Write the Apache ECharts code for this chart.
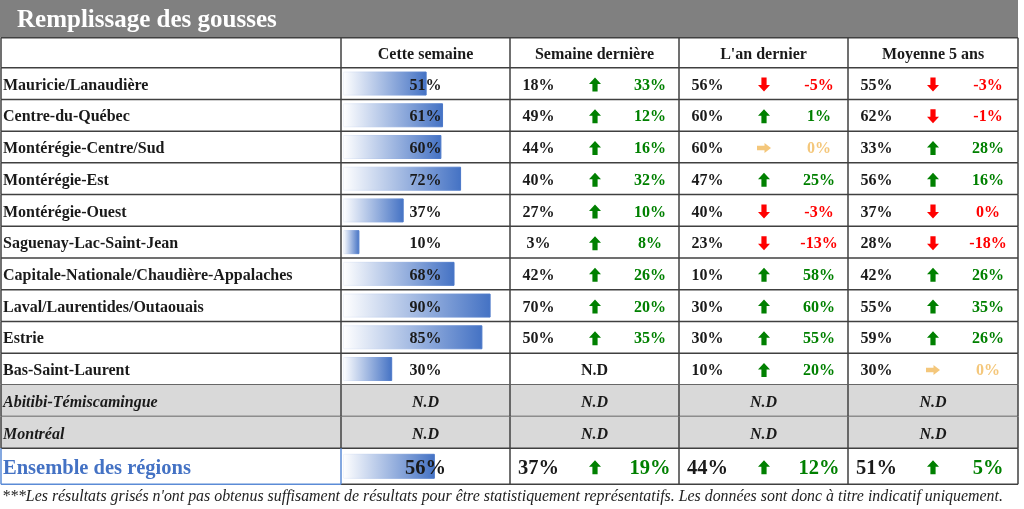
<!DOCTYPE html>
<html>
<head>
<meta charset="utf-8">
<script src="https://cdn.jsdelivr.net/npm/echarts@6/dist/echarts.min.js"></script>
<style>
  html, body { margin: 0; padding: 0; background: #fff; }
  #chart { width: 1024px; height: 509px; }
</style>
</head>
<body>
<div id="chart"></div>
<script>
// ---- data ----
const title = 'Remplissage des gousses'
const columns = ['Cette semaine', 'Semaine dernière', "L'an dernier", 'Moyenne 5 ans']
const regions = [
  'Mauricie/Lanaudière', 'Centre-du-Québec', 'Montérégie-Centre/Sud', 'Montérégie-Est',
  'Montérégie-Ouest', 'Saguenay-Lac-Saint-Jean', 'Capitale-Nationale/Chaudière-Appalaches',
  'Laval/Laurentides/Outaouais', 'Estrie', 'Bas-Saint-Laurent', 'Abitibi-Témiscamingue', 'Montréal'
]
const greyed = [false, false, false, false, false, false, false, false, false, false, true, true]
const thisWeek = [51, 61, 60, 72, 37, 10, 68, 90, 85, 30, null, null]

const lastWeek = [18, 49, 44, 40, 27, 3, 42, 70, 50, null, null, null]
const lastWeekDiff = [33, 12, 16, 32, 10, 8, 26, 20, 35, null, null, null]
const lastWeekTrend = ['up', 'up', 'up', 'up', 'up', 'up', 'up', 'up', 'up', null, null, null]

const lastYear = [56, 60, 60, 47, 40, 23, 10, 30, 30, 10, null, null]
const lastYearDiff = [-5, 1, 0, 25, -3, -13, 58, 60, 55, 20, null, null]
const lastYearTrend = ['down', 'up', 'flat', 'up', 'down', 'down', 'up', 'up', 'up', 'up', null, null]

const avg5 = [55, 62, 33, 56, 37, 28, 42, 55, 59, 30, null, null]
const avg5Diff = [-3, -1, 28, 16, 0, -18, 26, 35, 26, 0, null, null]
const avg5Trend = ['down', 'down', 'up', 'up', 'down', 'down', 'up', 'up', 'up', 'flat', null, null]

const totalLabel = ['Ensemble des régions']
const totalThisWeek = [56]
const totalCompare = [37, 44, 51]
const totalDiff = [19, 12, 5]
const totalTrend = ['up', 'up', 'up']

const footnote = "***Les résultats grisés n'ont pas obtenus suffisament de résultats pour être statistiquement représentatifs. Les données sont donc à titre indicatif uniquement."

// ---- layout ----
const FONT = '"Liberation Serif", "Times New Roman", serif'
const cols = [1, 341, 510, 679, 848, 1018]
const LINE = '#404040'
const trendColor = { up: '#008000', down: '#ff0000', flat: '#f4c77b' }
const BODY = 16
const BIG = 20.5

const pct = v => v + '%'

function arrow(kind, cx, cy) {
  let pts
  if (kind === 'up') {
    pts = [[0, -7], [6, -0.5], [2.6, -0.5], [2.6, 7], [-2.6, 7], [-2.6, -0.5], [-6, -0.5]]
  } else if (kind === 'down') {
    pts = [[0, 7], [6, 0.5], [2.6, 0.5], [2.6, -7], [-2.6, -7], [-2.6, 0.5], [-6, 0.5]]
  } else {
    pts = [[7, 0], [0.5, -5], [0.5, -2.2], [-7, -2.2], [-7, 2.2], [0.5, 2.2], [0.5, 5]]
  }
  return {
    type: 'polygon',
    shape: { points: pts.map(p => [cx + p[0], cy + p[1]]) },
    style: { fill: trendColor[kind] }
  }
}

function txt(text, x, y, opt) {
  return {
    type: 'text',
    style: Object.assign({
      text: text, x: x, y: y + 2, fill: '#1a1a1a',
      font: 'bold ' + BODY + 'px ' + FONT, align: 'center', verticalAlign: 'middle'
    }, opt || {})
  }
}

function line(x1, y1, x2, y2, color) {
  return {
    type: 'line',
    shape: { x1: x1, y1: y1, x2: x2, y2: y2 },
    style: { stroke: color || LINE, lineWidth: 1.5 }
  }
}

function rowInfo(i) {
  return {
    name: regions[i],
    grey: greyed[i],
    bar: thisWeek[i],
    cmp: [
      [lastWeek[i], lastWeekDiff[i], lastWeekTrend[i]],
      [lastYear[i], lastYearDiff[i], lastYearTrend[i]],
      [avg5[i], avg5Diff[i], avg5Trend[i]]
    ]
  }
}

function totalInfo() {
  return {
    name: totalLabel[0],
    grey: false,
    bar: totalThisWeek[0],
    cmp: totalCompare.map((v, k) => [v, totalDiff[k], totalTrend[k]])
  }
}

function makeRenderer(isTotal) {
  return function (params, api) {
    const i = api.value(1)
    const c = api.coord([0, i])
    const h = api.size([0, 1])[1]
    const top = c[1] - h / 2
    const bot = c[1] + h / 2
    const cy = c[1]
    const r = isTotal ? totalInfo() : rowInfo(i)
    const size = isTotal ? BIG : BODY
    const children = []

    if (r.grey) {
      children.push({
        type: 'rect',
        shape: { x: cols[0], y: top, width: cols[5] - cols[0], height: h },
        style: { fill: '#d9d9d9' }
      })
    }

    // region name
    children.push(txt(r.name, 3, cy, {
      align: 'left',
      fill: isTotal ? '#4472c4' : '#1a1a1a',
      font: (r.grey ? 'italic ' : '') + 'bold ' + size + 'px ' + FONT
    }))

    // this week label
    const barCx = (cols[1] + cols[2]) / 2
    if (r.bar == null) {
      children.push(txt('N.D', barCx, cy, { font: 'italic bold ' + BODY + 'px ' + FONT }))
    } else {
      children.push(txt(pct(r.bar), barCx, cy, { font: 'bold ' + size + 'px ' + FONT }))
    }

    // comparison groups
    r.cmp.forEach((g, k) => {
      const x0 = cols[k + 2]
      const x1 = cols[k + 3]
      if (g[0] == null) {
        children.push(txt('N.D', (x0 + x1) / 2, cy, {
          font: (r.grey ? 'italic ' : '') + 'bold ' + BODY + 'px ' + FONT
        }))
        return
      }
      children.push(txt(pct(g[0]), x0 + 28.5, cy, { font: 'bold ' + size + 'px ' + FONT }))
      children.push(arrow(g[2], x0 + 85, cy + 1))
      children.push(txt(pct(g[1]), x0 + 140, cy, {
        font: 'bold ' + size + 'px ' + FONT, fill: trendColor[g[2]]
      }))
    })

    // borders
    if (isTotal) {
      for (let k = 2; k < cols.length; k++) children.push(line(cols[k], top, cols[k], bot))
      children.push(line(cols[1], bot, cols[5], bot))
      children.push(line(cols[0], top, cols[0], bot, '#5b8bd6'))
      children.push(line(cols[1], top, cols[1], bot, '#5b8bd6'))
      children.push(line(cols[0], bot, cols[1], bot, '#5b8bd6'))
    } else {
      cols.forEach(x => children.push(line(x, top, x, bot)))
      children.push(line(cols[0], bot, cols[5], bot))
    }
    return { type: 'group', children: children }
  }
}

const barColor = new echarts.graphic.LinearGradient(0, 0, 1, 0, [
  { offset: 0, color: '#ffffff' },
  { offset: 1, color: '#4472c4' }
])
const barBorder = new echarts.graphic.LinearGradient(0, 0, 1, 0, [
  { offset: 0, color: '#f2f5fb' },
  { offset: 1, color: '#4a77c8' }
])

const chart = echarts.init(document.getElementById('chart'), null, { renderer: 'canvas' })

const headerTop = 37.7
const headerBot = 67.7
const headerGraphics = [
  { type: 'rect', shape: { x: 0, y: 0, width: 1018, height: 37.7 }, style: { fill: '#808080' } },
  {
    type: 'text', style: {
      text: title, x: 17, y: 21, fill: '#ffffff', font: 'bold 25px ' + FONT, verticalAlign: 'middle'
    }
  },
  { type: 'line', shape: { x1: cols[0], y1: headerTop, x2: cols[5], y2: headerTop }, style: { stroke: LINE, lineWidth: 1.5 } },
  { type: 'line', shape: { x1: cols[0], y1: headerBot, x2: cols[5], y2: headerBot }, style: { stroke: LINE, lineWidth: 1.5 } }
]
cols.forEach(x => headerGraphics.push({
  type: 'line', shape: { x1: x, y1: headerTop, x2: x, y2: headerBot }, style: { stroke: LINE, lineWidth: 1.5 }
}))
columns.forEach((name, k) => headerGraphics.push({
  type: 'text', style: {
    text: name, x: (cols[k + 1] + cols[k + 2]) / 2, y: (headerTop + headerBot) / 2 + 2,
    fill: '#1a1a1a', font: 'bold ' + BODY + 'px ' + FONT, align: 'center', verticalAlign: 'middle'
  }
}))
headerGraphics.push({
  type: 'text', style: {
    text: footnote, x: 2, y: 497, fill: '#222', font: 'italic 15.9px ' + FONT, verticalAlign: 'middle'
  }
})

chart.setOption({
  animation: false,
  grid: [
    { left: 343, width: 164, top: 67.7, height: 380.6 },
    { left: 343, width: 164, top: 448.3, height: 36 }
  ],
  xAxis: [
    { type: 'value', gridIndex: 0, min: 0, max: 100, show: false },
    { type: 'value', gridIndex: 1, min: 0, max: 100, show: false }
  ],
  yAxis: [
    { type: 'category', gridIndex: 0, data: regions, inverse: true, show: false },
    { type: 'category', gridIndex: 1, data: totalLabel, inverse: true, show: false }
  ],
  graphic: headerGraphics,
  series: [
    {
      type: 'bar', xAxisIndex: 0, yAxisIndex: 0, z: 2,
      barWidth: 24,
      data: thisWeek.map(v => (v == null ? '-' : v)),
      itemStyle: { color: barColor, borderColor: barBorder, borderWidth: 1 }
    },
    {
      type: 'bar', xAxisIndex: 1, yAxisIndex: 1, z: 2,
      barWidth: 25,
      data: totalThisWeek,
      itemStyle: { color: barColor, borderColor: barBorder, borderWidth: 1 }
    },
    {
      type: 'custom', xAxisIndex: 0, yAxisIndex: 0, z: 3, clip: false,
      renderItem: makeRenderer(false),
      encode: { x: 0, y: 1 },
      data: regions.map((r, i) => [0, i])
    },
    {
      type: 'custom', xAxisIndex: 1, yAxisIndex: 1, z: 3, clip: false,
      renderItem: makeRenderer(true),
      encode: { x: 0, y: 1 },
      data: totalLabel.map((r, i) => [0, i])
    }
  ]
})

window.addEventListener('resize', () => chart.resize())
</script>
</body>
</html>
